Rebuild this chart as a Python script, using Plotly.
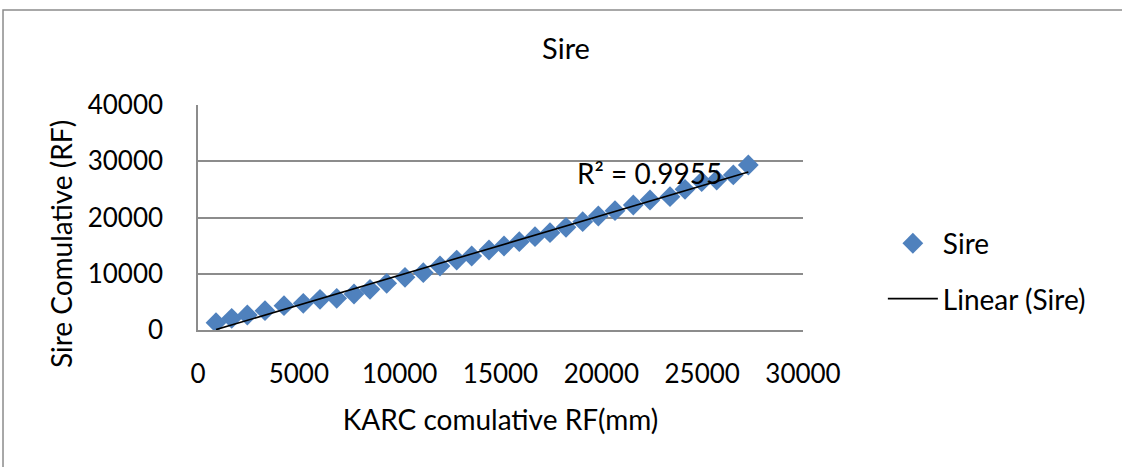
import numpy as np
import plotly.graph_objects as go

# KARC cumulative rainfall (mm) vs Sire cumulative (RF)
karc_cum = [893, 1671, 2445, 3322, 4264, 5221, 6050, 6878, 7736, 8529, 9357,
            10264, 11172, 12000, 12828, 13572, 14430, 15174, 15932, 16711,
            17455, 18248, 19076, 19850, 20678, 21585, 22413, 23405, 24149,
            24977, 25721, 26545, 27288]
sire_cum = [1300, 2070, 2670, 3440, 4330, 4740, 5450, 5630, 6400, 7230, 8300,
            9370, 10200, 11380, 12440, 13160, 14220, 14930, 15700, 16590,
            17300, 18250, 19260, 20270, 21210, 22220, 23110, 23700, 25010,
            26370, 26670, 27560, 29330]
r2_label = "R² = 0.9955"

FONT = "Lato"
GRID = "#8c8c8c"

# linear trendline like Excel's
slope, intercept = np.polyfit(karc_cum, sire_cum, 1)
trend_x = [min(karc_cum), max(karc_cum)]
trend_y = [slope * v + intercept for v in trend_x]

fig = go.Figure()

fig.add_trace(go.Scatter(
    x=karc_cum, y=sire_cum,
    mode='markers',
    name='Sire', legendgroup='a',
    marker=dict(symbol='diamond', size=16, color='#4F81BD'),
))

fig.add_trace(go.Scatter(
    x=trend_x, y=trend_y,
    mode='lines',
    name='Linear (Sire)', legendgroup='b',
    line=dict(color='black', width=1.6),
))

fig.add_annotation(
    x=22400, y=27900, xref='x', yref='y',
    text=r2_label, showarrow=False,
    font=dict(family=FONT, size=28, color='black'),
)

# y axis title placed like the source (sits a bit below the plot centre)
fig.add_annotation(
    x=-0.2264, y=0.382, xref='paper', yref='paper',
    text='Sire Comulative (RF)', textangle=-90, showarrow=False,
    xanchor='center', yanchor='middle',
    font=dict(family=FONT, size=28, color='black'),
)

# outer chart border (runs off the right and bottom like the source image)
fig.add_shape(
    type='rect', xref='paper', yref='paper',
    x0=-0.3223, x1=1.54, y0=-0.63, y1=1.4222,
    line=dict(color='#8c8c8c', width=1.5),
)

fig.update_layout(
    width=1122, height=467,
    margin=dict(l=198, r=319, t=105, b=137),
    paper_bgcolor='white',
    plot_bgcolor='white',
    font=dict(family=FONT, size=28, color='black'),
    title=dict(text='Sire', x=566 / 1122, xref='container', xanchor='center',
               y=1 - 49 / 467, yref='container', yanchor='middle',
               font=dict(family=FONT, size=29, color='black')),
    xaxis=dict(
        range=[0, 30000], dtick=5000, tickformat='d', showgrid=False,
        showline=True, linecolor=GRID, linewidth=1.5,
        ticks='outside', ticklen=20, tickcolor='rgba(0,0,0,0)',
        tickfont=dict(family=FONT, size=26),
        zeroline=False,
        title=dict(text='KARC comulative RF(mm)', standoff=22,
                   font=dict(family=FONT, size=28)),
    ),
    yaxis=dict(
        range=[0, 40000], dtick=10000, tickformat='d', showgrid=True,
        gridcolor=GRID, gridwidth=1.5,
        showline=True, linecolor=GRID, linewidth=1.5,
        ticks='outside', ticklen=28, tickcolor='rgba(0,0,0,0)',
        tickfont=dict(family=FONT, size=26),
        zeroline=False,
    ),
    legend=dict(
        x=1.132, y=0.262, xanchor='left', yanchor='middle',
        font=dict(family=FONT, size=28),
        bgcolor='rgba(0,0,0,0)',
        itemwidth=50,
        tracegroupgap=16,
    ),
    showlegend=True,
)

fig.write_html("out.html", config={'displayModeBar': False},
               post_script="document.body.style.margin='0';")
